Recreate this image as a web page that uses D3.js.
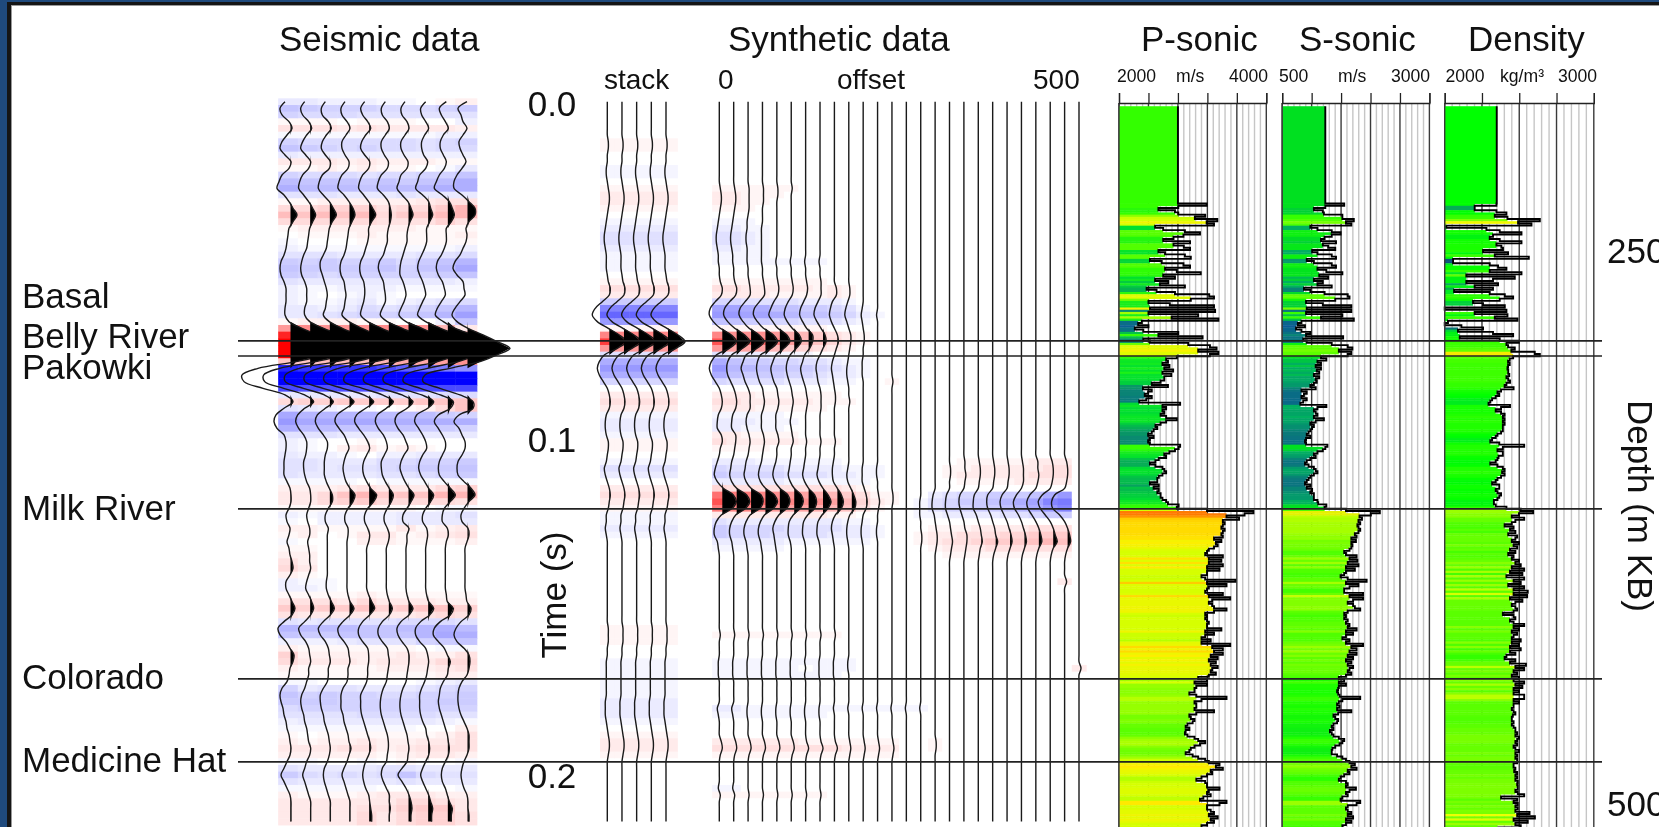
<!DOCTYPE html>
<html lang="en">
<head>
<meta charset="utf-8">
<title>Seismic tie</title>
<script src="https://d3js.org/d3.v7.min.js"></script>
<style>
	html, body { margin: 0; padding: 0; background: #1f4a7d; overflow: hidden; }
	svg { display: block; filter: blur(0.4px); }
	text { font-family: "Liberation Sans", Arial, sans-serif; fill: #111; }
</style>
</head>
<body>
<script>

// seismic section, one row of amplitudes per 2 ms sample
var seis1 = [-3,-8,-6,1,4,-1,-6,-8,-3,3, 1,-6,-9,-11,-4,1,5,9,5,1, 0,-1,-2,-4,-7,-8,-7,-4,-2,-2, -2,-3,-3,1,14,30,44,48,35,8, -30,-46,-44,-25,-3,5,-4,-12,-14,-11, -4,-2,-2,-3,-4,-4,-4,-1,2,3, 3,1,-2,-1,2,1,-1,1,2,4, 5,2,-2,-2,1,4,7,4,-4,-10, -8,-2,2,6,5,2,1,-1,-6,-8, -7,-5,-4,-2,-1,1,2,3,2,-1, -4,-7,-4,-1,2,3,3,3,3];
var seis2 = [-3,-7,-5,1,4,-1,-5,-7,-2,3, 1,-5,-8,-9,-4,1,5,8,5,2, 1,0,-1,-4,-6,-7,-6,-3,-1,-1, -1,-3,-3,2,16,32,44,47,34,8, -28,-44,-43,-24,-3,6,-3,-10,-12,-9, -4,-1,-1,-2,-4,-4,-3,-1,2,3, 3,1,-1,0,2,2,0,1,2,2, 3,1,-1,-2,1,4,6,3,-3,-9, -7,-2,1,2,3,1,1,-1,-3,-6, -7,-6,-4,-3,-1,0,1,3,2,-1, -3,-5,-3,-1,1,3,3,3,3];
var seis3 = [-2,-6,-5,1,4,-1,-5,-6,-2,3, 2,-5,-8,-9,-4,2,6,9,5,2, 1,0,-1,-4,-7,-7,-5,-3,-1,0, -1,-2,-4,2,15,31,44,47,33,9, -28,-42,-42,-24,-3,6,-2,-10,-12,-9, -4,0,0,-2,-3,-3,-3,-1,2,5, 5,1,-2,-2,1,0,0,0,0,0, 0,0,-1,-1,1,4,7,3,-4,-9, -7,-2,1,2,3,1,1,0,-4,-7, -7,-6,-4,-3,-1,1,2,3,2,0, -3,-4,-3,-1,1,3,3,3,3];
var seis4 = [-2,-6,-5,0,3,-1,-5,-5,-2,2, 1,-5,-8,-9,-3,2,6,8,5,2, 1,0,-1,-3,-6,-7,-6,-3,-2,-1, -2,-3,-5,2,15,30,44,46,33,9, -28,-42,-42,-24,-3,7,-1,-10,-12,-8, -3,0,2,-1,-3,-4,-3,-1,3,8, 6,1,-2,-2,1,1,0,0,0,0, 0,0,0,0,1,3,7,3,-4,-9, -8,-3,1,2,3,1,1,0,-4,-6, -6,-6,-4,-3,-1,1,2,4,2,0, -3,-5,-3,-1,1,3,3,3,3];
var seis5 = [-2,-6,-4,1,4,-1,-5,-6,-2,3, 2,-4,-7,-8,-3,2,6,9,5,2, 2,1,-1,-3,-6,-7,-6,-3,-2,-2, -3,-5,-6,1,15,30,43,46,33,9, -28,-42,-42,-24,-3,7,-1,-10,-12,-8, -3,1,3,0,-3,-4,-3,0,4,10, 7,1,-2,-2,1,3,2,0,0,0, 0,0,0,0,2,5,8,3,-4,-8, -8,-4,1,2,2,1,1,0,-3,-6, -6,-6,-5,-3,-1,1,3,4,2,-1, -3,-4,-3,-1,2,3,4,5,5];
var seis6 = [-1,-5,-4,1,3,-1,-5,-5,-2,2, 1,-5,-8,-9,-3,2,4,5,4,2, 1,1,-1,-3,-7,-8,-6,-3,-2,-1, -1,-4,-6,1,16,31,44,46,32,10, -25,-41,-42,-24,-4,7,0,-9,-11,-8, -3,0,1,-2,-5,-5,-4,-1,3,7, 5,1,-2,-2,1,3,2,0,0,0, 0,0,0,0,1,3,6,3,-4,-8, -8,-4,1,2,3,2,1,0,-3,-5, -6,-6,-5,-3,-1,1,2,2,1,0, -4,-5,-3,0,3,3,4,3,3];
var seis7 = [-1,-5,-4,1,3,-1,-5,-5,-2,2, 1,-5,-7,-9,-4,2,5,7,4,2, 1,1,-1,-3,-5,-6,-6,-3,-1,0, -2,-5,-7,0,16,31,44,46,32,12, -22,-41,-42,-25,-4,7,1,-9,-11,-8, -3,0,2,-2,-5,-6,-4,-1,3,8, 5,1,-3,-3,3,1,1,0,0,0, 0,0,0,0,1,3,7,3,-5,-9, -8,-4,1,3,3,2,1,0,-3,-5, -6,-6,-5,-3,-1,1,2,3,2,1, -4,-8,-4,0,3,5,6,5,5];
var seis8 = [0,-5,-4,0,3,-1,-4,-4,-2,2, 0,-6,-8,-10,-3,3,5,7,4,1, 1,1,-1,-4,-7,-8,-6,-3,-1,0, -3,-6,-8,0,15,31,45,46,32,12, -20,-41,-42,-25,-4,8,2,-9,-11,-7, -3,0,1,-3,-6,-7,-5,-1,3,8, 5,0,-3,-3,1,2,1,0,0,0, 0,0,0,0,1,3,8,4,-5,-10, -10,-6,0,2,3,2,1,-1,-4,-6, -6,-6,-5,-3,0,1,3,4,3,0, -3,-5,-3,0,3,5,7,6,6];
var seis9 = [1,-6,-4,0,3,-2,-5,-5,-2,1, -1,-6,-9,-11,-3,4,7,9,6,1, 1,1,-1,-4,-8,-9,-7,-3,-1,0, -4,-8,-10,-2,10,28,43,46,32,13, -18,-40,-42,-25,-5,8,5,-7,-11,-7, -3,0,0,-3,-6,-7,-6,-1,5,10, 5,-1,-3,-3,2,3,1,0,0,0, 0,0,0,0,1,2,8,5,-5,-11, -12,-7,-1,2,5,3,2,-2,-5,-6, -7,-6,-4,-2,0,2,3,4,3,0, -3,-4,-3,0,2,4,7,6,6];
var seis10 = [2,-7,-4,-2,2,-2,-6,-5,-2,1, -3,-8,-11,-11,-3,4,10,10,4,1, 2,1,-2,-5,-10,-12,-8,-2,-1,0, -5,-10,-13,-8,3,18,32,45,32,15, -15,-40,-42,-25,-5,8,8,-6,-11,-6, -3,0,0,-3,-7,-8,-7,-1,6,10, 4,-1,-4,-3,3,4,2,0,0,0, 0,0,0,0,1,2,6,4,-4,-9, -11,-8,-1,4,5,4,2,-3,-6,-7, -7,-6,-4,-1,2,4,4,4,2,-1, -3,-4,-3,-1,2,3,3,4,4];
var seisTraces = [seis1, seis2, seis3, seis4, seis5, seis6, seis7, seis8, seis9, seis10];

// synthetic stack, the same trace repeated five times
var stackAmp = [0,0,0,0,0,0,1,1,0,0, -1,-1,0,1,2,2,1,0,-1,-2, -3,-3,-2,-1,-1,-1,0,1,3,2, -5,-12,-15,-10,1,12,19,10,-3,-8, -10,-8,-4,0,2,3,2,-1,-2,-2, -1,1,1,0,-1,-3,-2,0,2,3, 2,1,-1,-1,-2,-1,0,0,0,0, 0,0,0,0,0,0,0,0,0,1, 1,1,0,0,-1,-1,-1,-1,-1,-1, -2,-2,-2,-1,0,1,2,2,1,0, 0,0,0,0,0,0,0,0,0];
var stackCount = 5;

// synthetic gather: only the samples that are not flat, one row per sample, nearest offset first
var gatherCount = 26;
var gatherSamples = [13,14,15,16,18,19,20,21,22,23,24,27,28,29,30,31,32,33,34,35,36,37,38,39,40,41,42,44,45,46,47,48,49,50,51,52,54,55,56,57,58,59,60,61,62,63,64,65,66,67,68,72,80,84,85,86,91,92,96,97,98,103,104];
var gatherRows = [
	[1,1,1,1,1,1],
	[2,2,1,1,1],
	[2,2,1,1],
	[1,1,1],
	[-1,-1,-1],
	[-2,-2,-1,-1],
	[-3,-3,-2,-1],
	[-3,-3,-2,-1],
	[-2,-2,-1,-1],
	[-1,-1,-1,-1],
	[-1,-1,-1,-1,-1,-1,-1,-1],
	[1,1,1,1,1,1,1,1],
	[3,3,2,2,2,2,2,1,2,1],
	[2,2,2,2,1,1,1,1,2,1],
	[-4,-4,-3,-3,-3,-3,-2,-2,-2,-1],
	[-9,-9,-8,-8,-6,-6,-5,-5,-4,-3,-1],
	[-10,-10,-9,-9,-8,-7,-6,-6,-5,-4,-2,-1],
	[-6,-6,-5,-5,-4,-4,-3,-3,-3,-2,-1],
	[1,1,1,1,1,1,1,1],
	[12,11,11,11,10,8,7,5,3,2,1],
	[17,16,16,15,13,10,7,6,4,2,1],
	[10,9,9,9,7,5,4,3,2,1],
	[-3,-2,-2,-2,-1,-1,-1],
	[-8,-6,-5,-5,-4,-4,-3,-3,-2,-1,-1],
	[-10,-7,-7,-6,-6,-5,-5,-4,-3,-2,-1],
	[-8,-6,-5,-5,-5,-4,-4,-3,-2,-2,-1],
	[-4,-3,-3,-3,-3,-2,-2,-2,-1,-1,0,0,1],
	[2,2,2,1,1,1,1,1,1],
	[3,3,2,2,2,2,2,1,1,1],
	[2,2,2,1,1,1,1,1],
	[-1,-1,-1,-1,-1],
	[-2,-2,-2,-1,-1,-1],
	[-2,-2,-1,-1,-1],
	[2,2,1,1,1,1],
	[3,2,2,2,2,2,1,1,1],
	[1,1,1,1],
	[-2,-2,-2,-1,-1,-1,-1,-1,-1,0,0,0,0,0,0,0,0,1,1,1,1,1,2,2,2,0],
	[-4,-3,-3,-3,-3,-2,-2,-2,-2,-1,-1,-1,0,0,0,0,1,1,2,2,2,2,2,3,3,0],
	[-5,-4,-4,-4,-4,-3,-3,-3,-2,-2,-1,-1,0,0,0,0,1,2,2,2,2,2,3,3,3,0],
	[-2,-2,-2,-2,-2,-1,-1,-1,-1,-1,-1,0,0,0,0,0,0,1,1,1,1,2,2,2,2,0],
	[4,3,3,3,3,3,3,3,3,2,1],
	[14,13,13,12,11,10,9,8,7,5,3,1,1,0,0,-2,-3,-4,-4,-5,-5,-5,-6,-8,-10,0],
	[17,16,15,15,13,12,11,11,9,7,4,2,1,0,-1,-3,-4,-5,-5,-6,-7,-8,-9,-12,-13,0],
	[13,12,12,11,10,9,9,8,7,6,3,1,0,0,-1,-3,-4,-4,-5,-5,-6,-7,-8,-10,-12,0],
	[2,2,2,2,2,2,2,2,1,1,0,0,0,0,-1,-1,-2,-2,-2,-2,-3,-3,-4,-5,-5,0],
	[-3,-2,-2,-2,-2,-2,-2,-2,-2,-1,-1],
	[-5,-4,-4,-4,-4,-3,-3,-3,-3,-2,-2,-1,0,0,0,1,1,1,2,2,2,2,3,3,3,0],
	[-5,-4,-4,-4,-3,-3,-3,-3,-2,-2,-2,-1,0,0,1,2,2,3,3,3,4,4,5,5,5,0],
	[-2,-2,-2,-2,-2,-1,-1,-1,-1,-1,-1,0,0,0,1,2,3,3,4,5,5,5,6,7,6,0],
	[-1,-1,-1,-1,-1,0,0,0,0,0,0,0,0,0,0,1,2,2,2,3,3,3,3,3,3,0],
	[0,0,0,0,0,0,0,0,0,0,0,0,0,0,0,0,1,1,1,1,1,1,1,1,1,0],
	[0,0,0,0,0,0,0,0,0,0,0,0,0,0,0,0,0,0,0,0,0,0,0,0,2,0],
	[1,1,1,1,1,1,1,1,1],
	[-1,-1,-1,-1,-1,-1,-1,-1,-1,-1],
	[-1,-1,-1,-1,-1,-1,0,-1,-1,-1,0,0,0,0,0,0,0,0,0,0,0,0,0,0,0,2],
	[-1,-1,-1,-1,-1,-1,-1,-1,-1],
	[-2,-2,-1,-1,-1,-1,-1,-1,-1,-1,-1,-1,-1,-1,-1],
	[-1,-1,-1,-1,-1,-1,-1,-1],
	[2,2,2,2,2,2,1,1,1,1,1,1,1,0,0,1],
	[3,3,3,3,3,3,3,3,3,2,2,2,2,0,0,1],
	[1,1,1,1,1,1,1,1,1,1,1,1,1],
	[-1,-1],
	[1,1,1,1,1,1,1,1]
];

// well logs, one sample per metre from 229 m down
var logStartDepth = 229;
var logTopDepth = 185;
var pTop = 2800;
var sTop = 1232;
var rhoTop = 2349;
var pSonic = [3190,2805,2535,2760,2805,3170,3030,3335,3190,3290,2490,2600,2895,3100,2875,2740,2600,2965,2740,2880,2965,2535,2625,2895,2975,2420,2580,2875,2965,2625,2785,3110,2600,2760,2490,2670,2555,2895,2375,2510,2760,3225,3290,2975,2400,2690,3290,2420,3305,2400,3075,2715,3350,2310,2260,2400,2215,2330,2805,2535,3135,2330,2420,2940,3235,3325,3075,3350,3235,
	2785,2640,2665,2590,2685,2615,2735,2590,2710,2615,2615,2565,2445,2665,2325,2445,2395,2350,2445,2370,2275,2830,2590,2640,2590,2615,2565,2640,2785,2640,2565,2495,2520,2470,2445,2395,
	2470,2420,2395,2420,2830,2810,2760,2685,2615,2640,2540,2495,2420,2495,2590,2615,2640,2590,2540,2520,2520,2420,2540,2470,2540,2520,2565,2565,2590,2640,2665,2810,2785,3195,
	3825,3705,3460,3630,3410,3435,3410,3390,3435,3410,3390,3410,3290,3390,3315,3340,3290,3220,3195,3170,3410,3220,3390,3220,3410,3195,3365,3195,3195,3120,3170,3580,3195,3460,3220,3195,3170,3410,3220,3510,3265,3220,3265,3290,3460,3290,3170,3195,3170,3195,3220,3195,3195,3390,3170,3290,3170,3120,3245,3120,3510,3265,3410,3290,3410,3245,3340,3220,3315,3245,3340,3265,3245,3315,3220,3075,3195,
	3025,3195,3050,3025,3025,2955,3050,3460,3120,3025,3050,3050,3025,3290,3050,2955,2975,3025,3000,2930,2905,2955,2905,2895,2930,3025,3075,3170,3100,3025,2975,2955,2905,3000,3075,3170,3220,
	3365,3315,3410,3245,3265,3195,3120,3050,3170,3195,3195,3365,3220,3195,3245,3145,3100,3460,3365,3195,3195,3245,3290,3220,3340,3245,3290,3195,3120,3195];
var sSonic = [1553,1232,1038,1190,1208,1522,1522,1716,1583,1674,978,1099,1341,1492,1341,1220,1159,1414,1190,1280,1401,1008,1099,1341,1414,917,1038,1341,1414,1099,1250,1522,1129,1280,1038,1190,1099,1341,869,978,1220,1613,1643,1401,905,1190,1674,917,1674,905,1522,1159,1716,827,766,887,736,827,978,905,1535,857,917,1341,1613,1692,1462,1674,1613,1159,
	1250,1099,1159,1069,1159,1087,1129,1038,1129,1069,1087,1038,978,1069,827,917,869,827,917,857,809,1250,1099,1038,1069,1099,1038,1208,1069,978,1038,1008,978,948,917,
	978,905,887,905,1268,1232,1190,1099,1038,1069,978,917,887,948,1038,1069,1099,1038,978,948,917,887,978,917,1008,978,1038,1038,1038,1099,1111,1250,1220,1583,
	2158,2006,1813,1855,1795,1825,1777,1795,1825,1795,1734,1764,1674,1752,1674,1692,1674,1643,1553,1583,1764,1643,1777,1613,1795,1583,1734,1583,1553,1492,1613,1934,1583,1795,1643,1553,1553,1873,1643,1873,1704,1613,1704,1734,1825,1613,1553,1583,1553,1613,1583,1643,1613,1764,1583,1704,1583,1522,1643,1583,1873,1674,1764,1643,1764,1613,1704,1583,1674,1613,1704,1643,1613,1674,1583,1462,1553,
	1462,1583,1462,1450,1432,1450,1474,1825,1522,1462,1432,1474,1432,1674,1450,1371,1401,1450,1432,1371,1341,1371,1311,1341,1371,1462,1553,1522,1474,1401,1353,1341,1341,1432,1522,1583,1643,1734,1674,1764,1613,1643,1553,1492,1462,1583,1613,1583,1752,1643,1583,1613,1522,1492,1825,1764,1613,1583,1613,1674,1613,1704,1583,1674,1583,1522,1553];
var density = [2347,2201,2201,2347,2414,2336,2421,2638,2492,2582,2011,2280,2369,2515,2324,2302,2369,2515,2347,2380,2391,2257,2425,2336,2564,2056,2056,2302,2358,2414,2302,2515,2145,2470,2324,2145,2358,2201,2324,2063,2302,2403,2459,2369,2190,2257,2403,2000,2414,2201,2421,2336,2488,2022,2000,2112,2257,2089,2324,2459,2101,2369,2497,2414,2425,2470,2447,2604,2638,2459,2436,2425,2436,2425,2421,
	2426,2426,2433,2414,2426,2438,2414,2402,2462,2378,2354,2366,2342,2318,2306,2294,2438,2378,2342,2378,2402,2390,2402,2390,2402,2390,2390,2390,2378,2354,
	2342,2318,2306,2366,2533,2390,2354,2390,2390,2361,2354,2342,2306,2354,2390,2402,2385,2402,2378,2354,2342,2318,2366,2366,2342,2354,2378,2366,2354,2330,2330,2342,2414,2510,
	2593,2498,2450,2533,2474,2450,2402,2462,2438,2474,2426,2486,2474,2450,2498,2462,2486,2438,2474,2426,2462,2450,2498,2474,2510,2450,2533,2438,2521,2414,2533,2462,2510,2426,2533,2462,2557,2462,2553,2438,2521,2474,2450,2474,2486,2462,2390,2462,2474,2438,2462,2533,2462,2498,2450,2486,2462,2450,2510,2450,2498,2438,2510,2438,2474,2414,2402,2474,2438,2545,2474,2533,2462,2486,2450,2498,2462,2533,2474,2521,2462,2498,2462,2533,2533,2462,2498,2462,2462,2450,2462,2474,2457,2450,2450,2462,2450,2462,2474,2474,2486,2474,2498,2486,2474,2486,2462,2474,2498,2474,2486,2474,2486,2486,2462,2462,2474,2466,2486,2474,2486,2474,2490,2486,2490,2490,2474,2490,2533,2378,2486,2462,2490,2474,2490,2474,2569,2486,2605,2462,2557,2474,2510,2354];

// tick marks and labels
var pTicks = [2000,2400,2800,3200,3600,4000];
var sTicks = [500,1000,1500,2000,2500,3000];
var rhoTicks = [2000,2250,2500,2750,3000];
var timeTicks = [0, 0.1, 0.2];
var depthTicks = [250, 500];
var horizonTimes = [0.0708, 0.0753, 0.1208, 0.1714, 0.1961];
var horizonNames = ["Basal", "Belly River", "Pakowki", "Milk River", "Colorado", "Medicine Hat"];
var horizonBaselines = [308, 348, 379, 520, 689, 772];

var sampleStart = -0.0004, sampleStep = 0.001984;

var w = 1659, h = 827;
var svg = d3.select("body").append("svg")
	.attr("width", w)
	.attr("height", h);

// slide frame
svg.append("rect").attr("width", w).attr("height", h).attr("fill", "#1f4a7d");
svg.append("rect").attr("x", 7).attr("y", 2).attr("width", w).attr("height", h).attr("fill", "#151515");
svg.append("rect").attr("x", 11).attr("y", 5).attr("width", w).attr("height", h).attr("fill", "#999");
svg.append("rect").attr("x", 12).attr("y", 6).attr("width", w).attr("height", h).attr("fill", "#fff");

var yTime = d3.scaleLinear().domain([0, 0.2]).range([103, 775]);
var yDepth = d3.scaleLinear().domain([250, 500]).range([250, 803]);

// heat rows behind, filled lobes and wiggle on top
function drawSection(traces, xRange, colorMax, threshold, padRight) {
	var g = svg.append("g");
	var x = d3.scalePoint().domain(d3.range(traces.length)).range(xRange);
	var colW = x.step();
	var color = d3.scaleLinear().domain([-colorMax, 0, colorMax])
		.range(["#0000ff", "#ffffff", "#ff0000"]).clamp(true);
	var rowH = yTime(sampleStep) - yTime(0);
	var timeOf = function(i) { return sampleStart + i * sampleStep; };

	traces.forEach(function(tr, k) {
		g.append("g").selectAll("rect")
			.data(tr)
			.join("rect")
			.attr("x", x(k) - colW / 2)
			.attr("y", function(d, i) { return yTime(timeOf(i)) - rowH / 2; })
			.attr("width", colW + (k == traces.length - 1 ? padRight : 0) + 0.5)
			.attr("height", rowH + 0.5)
			.attr("fill", function(d) { return color(d); });
	});

	var area = d3.area()
		.y(function(d, i) { return yTime(timeOf(i)); });
	var line = d3.line()
		.curve(d3.curveCatmullRom.alpha(0.5))
		.y(function(d, i) { return yTime(timeOf(i)); });

	traces.forEach(function(tr, k) {
		area.x0(x(k) + threshold)
			.x1(function(d) { return x(k) + Math.max(d, threshold); });
		line.x(function(d) { return x(k) + d; });
		g.append("path").attr("d", area(tr)).attr("fill", "#000");
		g.append("path").attr("d", line(tr))
			.attr("fill", "none")
			.attr("stroke", "#1a1a1a")
			.attr("stroke-width", 1.4);
	});
}

drawSection(seisTraces, [288, 465], 35, 2.5, 2);

var stackTraces = d3.range(stackCount).map(function() { return stackAmp; });
drawSection(stackTraces, [607.3, 666], 25, 2, 4);

var gatherTraces = d3.range(gatherCount).map(function() {
	return stackAmp.map(function() { return 0; });
});
gatherSamples.forEach(function(s, r) {
	gatherRows[r].forEach(function(a, k) { gatherTraces[k][s] = a; });
});
drawSection(gatherTraces, [719.3, 1079], 25, 3, 0);

// log panels
function logColor(stops, colors) {
	return d3.scaleLinear().domain(stops).range(colors).clamp(true);
}

function drawLog(values, topValue, range, ticks, color) {
	var g = svg.append("g");
	var x = d3.scaleLinear().domain([ticks[0], ticks[ticks.length - 1]]).range(range);
	var step = ticks[1] - ticks[0];
	var y0 = 103, y1 = h + 2;

	// minor grid
	var minor = d3.range(ticks[0], ticks[ticks.length - 1], step / 5).filter(function(v) {
		return ticks.indexOf(v) < 0;
	});
	g.selectAll(".minor").data(minor).join("line")
		.attr("x1", x).attr("x2", x).attr("y1", y0).attr("y2", y1)
		.attr("stroke", "#c6c6c6").attr("stroke-width", 1.4);
	g.selectAll(".major").data(ticks).join("line")
		.attr("x1", x).attr("x2", x).attr("y1", y0).attr("y2", y1)
		.attr("stroke", "#3a3a3a").attr("stroke-width", 1.4);

	// coloured rows stop at the lowest neighbour, spikes stay unfilled
	var series = [{ depth: logTopDepth, v: topValue, len: logStartDepth - logTopDepth }];
	values.forEach(function(v, i) {
		series.push({ depth: logStartDepth + i, v: v, len: 1 });
	});
	series.forEach(function(d, i) {
		var win = series.slice(Math.max(i - 1, 0), i + 2).map(function(s) { return s.v; });
		d.edge = i == 0 ? d.v : d3.min(win);
		d.mid = i == 0 ? d.v : d3.median(win);
	});
	g.append("g").selectAll("rect").data(series).join("rect")
		.attr("x", range[0])
		.attr("y", function(d) { return yDepth(d.depth); })
		.attr("width", function(d) { return x(d.edge) - range[0]; })
		.attr("height", function(d) { return yDepth(d.depth + d.len) - yDepth(d.depth) + 0.4; })
		.attr("fill", function(d) { return color(d.mid); });

	var line = d3.line()
		.x(function(d) { return x(d.v); })
		.y(function(d) { return yDepth(d.depth); })
		.curve(d3.curveStepBefore);
	g.append("path").attr("d", line(series))
		.attr("fill", "none")
		.attr("stroke", "#000")
		.attr("stroke-width", 1.9);

	// left edge on top of the fill
	g.append("line")
		.attr("x1", range[0]).attr("x2", range[0]).attr("y1", y0).attr("y2", y1)
		.attr("stroke", "#3a3a3a").attr("stroke-width", 1.4);

	var axis = d3.axisTop(x).tickValues(ticks).tickSize(10).tickSizeOuter(10).tickFormat("");
	g.append("g").attr("transform", "translate(0," + y0 + ")").call(axis)
		.selectAll("path,line").attr("stroke", "#222").attr("stroke-width", 1.3);
}

var pColor = logColor([2200,2420,2600,2800,3000,3200,3350,3550,3800],
	["#0a50a0","#0a8a70","#00e030","#33ff00","#80ff00","#d8ff00","#ffee00","#ffb000","#ff5a00"]);
var sColor = logColor([700,950,1100,1232,1450,1700,1900,2150],
	["#0a50a0","#0a7a7a","#00b060","#00e020","#1aff00","#80ff00","#d0ff00","#ffe000"]);
var rhoColor = logColor([2000,2150,2280,2350,2470,2570,2650],
	["#0a3080","#0a8a70","#00e030","#00ff00","#60ff00","#f0ff00","#ffc800"]);

drawLog(pSonic, pTop, [1119, 1266.3], pTicks, pColor);
drawLog(sSonic, sTop, [1282.2, 1429.4], sTicks, sColor);
drawLog(density, rhoTop, [1444.7, 1593.8], rhoTicks, rhoColor);

// horizons run across everything
svg.append("g").selectAll("line").data(horizonTimes).join("line")
	.attr("x1", 238).attr("x2", 1602)
	.attr("y1", yTime).attr("y2", yTime)
	.attr("stroke", "#222").attr("stroke-width", 1.7);

// text
function label(txt, x, y, size, anchor) {
	return svg.append("text").text(txt)
		.attr("x", x).attr("y", y)
		.attr("font-size", size)
		.attr("text-anchor", anchor || "start");
}
label("Seismic data", 279, 51, 35);
label("Synthetic data", 728, 51, 35);
label("P-sonic", 1141, 51, 35);
label("S-sonic", 1299, 51, 35);
label("Density", 1468, 51, 35);

label("stack", 604, 89, 28);
label("0", 718, 89, 28);
label("offset", 837, 89, 28);
label("500", 1033, 89, 28);

label("2000", 1117, 82, 17.6);
label("m/s", 1176, 82, 17.6);
label("4000", 1229, 82, 17.6);
label("500", 1279, 82, 17.6);
label("m/s", 1338, 82, 17.6);
label("3000", 1391, 82, 17.6);
label("2000", 1445.5, 82, 17.6);
label("kg/m³", 1500, 82, 17.6);
label("3000", 1558, 82, 17.6);

horizonNames.forEach(function(name, i) {
	label(name, 22, horizonBaselines[i], 35);
});

timeTicks.forEach(function(t) {
	label(d3.format(".1f")(t), 552, yTime(t) + 12.6, 35, "middle");
});
depthTicks.forEach(function(d) {
	label(d, 1607, yDepth(d) + 12.6, 35);
});

svg.append("text").text("Time (s)")
	.attr("transform", "translate(566,595) rotate(-90)")
	.attr("font-size", 35).attr("text-anchor", "middle");
svg.append("text").text("Depth (m KB)")
	.attr("transform", "translate(1628,506) rotate(90)")
	.attr("font-size", 35).attr("text-anchor", "middle");

</script>
</body>
</html>
